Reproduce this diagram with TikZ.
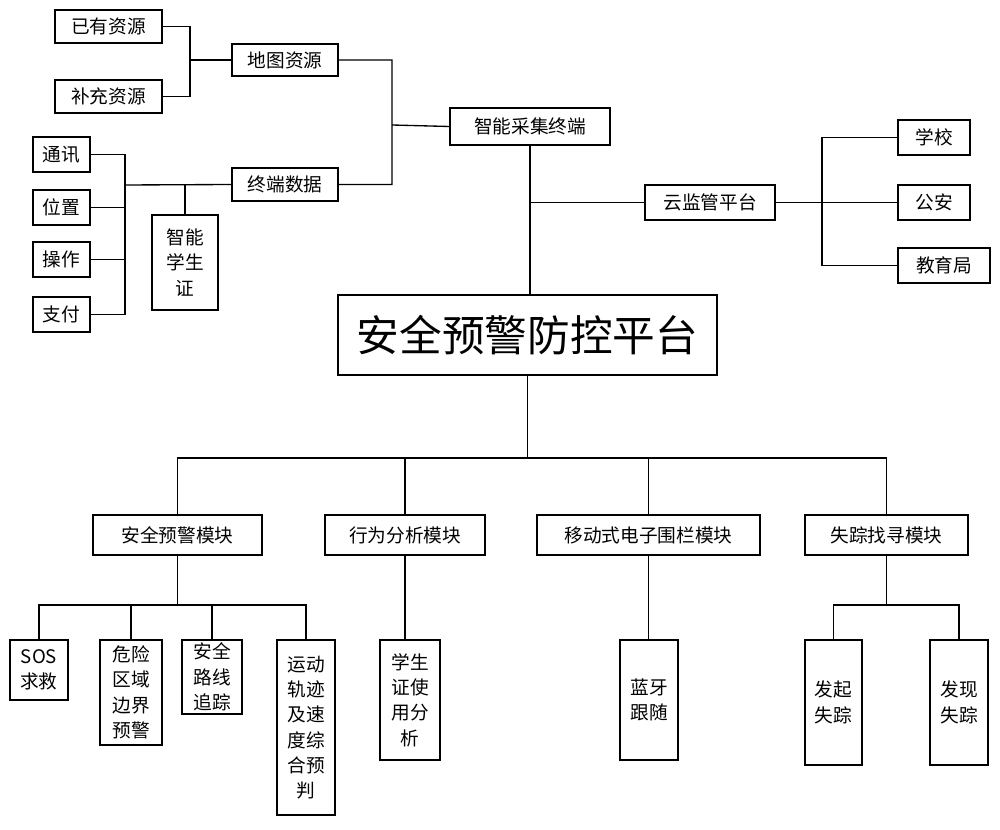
\documentclass[tikz,border=0pt]{standalone}
\usepackage{fontspec}
\setmainfont{Noto Sans CJK SC}
\begin{document}
\begin{tikzpicture}[x=0.75pt,y=-0.75pt,line width=1pt,
 b/.style={draw,rectangle,inner sep=0pt,font=\fontsize{14}{19}\selectfont,align=center}]
\useasboundingbox (0,0) rectangle (1000,830);
\newcommand\bx[6]{\node[b,minimum width={(#4-#2)*0.75pt},minimum height={(#5-#3)*0.75pt}] (#1) at ({(#2+#4)/2},{(#3+#5)/2}) {#6};}
\bx{a}{55}{10}{162}{43}{已有资源}
\bx{c}{55}{80}{162}{113}{补充资源}
\bx{map}{232}{44}{338}{76}{地图资源}
\bx{zn}{450}{108}{610}{145}{智能采集终端}
\bx{t1}{33}{137}{90}{172}{通讯}
\bx{t2}{33}{190}{90}{225}{位置}
\bx{t3}{33}{242}{90}{277}{操作}
\bx{t4}{33}{297}{90}{332}{支付}
\bx{zd}{232}{168}{338}{201}{终端数据}
\bx{xsz}{152}{215}{218}{310}{智能\\学生\\证}
\bx{yun}{645}{185}{775}{220}{云监管平台}
\bx{s1}{898}{120}{970}{155}{学校}
\bx{s2}{898}{185}{970}{220}{公安}
\bx{s3}{898}{248}{990}{283}{教育局}
\node[draw,minimum width=379*0.75pt,minimum height=80*0.75pt,inner sep=0pt,font=\fontsize{32}{36}\selectfont] (pf) at (527.5,335) {安全预警防控平台};
\bx{m1}{93}{515}{262}{555}{安全预警模块}
\bx{m2}{325}{515}{485}{555}{行为分析模块}
\bx{m3}{537}{515}{760}{555}{移动式电子围栏模块}
\bx{m4}{805}{515}{968}{555}{失踪找寻模块}
\bx{l1}{10}{640}{68}{700}{SOS\\求救}
\bx{l2}{100}{640}{162}{745}{危险\\区域\\边界\\预警}
\bx{l3}{182}{640}{242}{714}{安全\\路线\\追踪}
\bx{l4}{277}{640}{335}{815}{运动\\轨迹\\及速\\度综\\合预\\判}
\bx{l5}{380}{640}{440}{760}{学生\\证使\\用分\\析}
\bx{l6}{620}{640}{678}{760}{蓝牙\\跟随}
\bx{l7}{805}{640}{862}{765}{发起\\失踪}
\bx{l8}{930}{640}{988}{765}{发现\\失踪}
% connectors
\draw (a.east) -| (190,60) coordinate (j1) (c.east) -| (j1) -- (map.west);
\draw (map.east) -| (392,125) coordinate (j2) (zd.east) -| (j2) -- (zn.west);
\foreach \n in {t1,t2,t3,t4} \draw (\n.east) -| (125,185) coordinate (j3);
\draw (j3) -- (zd.west);
\draw (xsz.north) -- (xsz.north |- j3);
\draw (zn.south) -- (pf.north -| zn.south);
\draw (yun.west) -- (yun.west -| zn.south);
\foreach \n in {s1,s2,s3} \draw (yun.east) -| (822,0 |- \n.west) -- (\n.west);
\draw (pf.south) -- (527.5,458) coordinate (j4);
\foreach \n in {m1,m2,m3,m4} \draw (j4) -| (\n.north);
\draw (m1.south) -- (177.5,605) coordinate (j5);
\foreach \n in {l1,l2,l3,l4} \draw (j5) -| (\n.north);
\draw (m2.south) -- (l5.north -| m2.south);
\draw (m3.south) -- (l6.north -| m3.south);
\draw (m4.south) -- (886.5,605) coordinate (j6);
\foreach \n in {l7,l8} \draw (j6) -| (\n.north);
\end{tikzpicture}
\end{document}
